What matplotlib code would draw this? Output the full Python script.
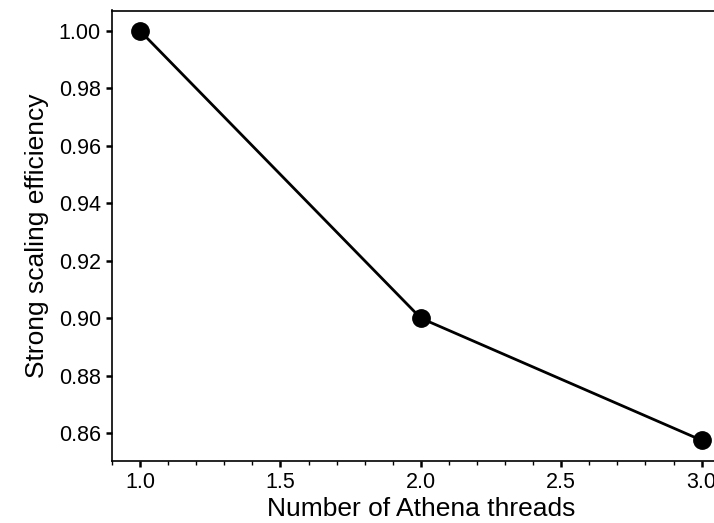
import matplotlib
matplotlib.use('Agg')
from matplotlib import pyplot as plt
from matplotlib.ticker import MultipleLocator

plt.rcParams['font.family'] = ['Liberation Sans', 'DejaVu Sans']

# data
threads = [1.0, 2.0, 3.0]
efficiency = [1.0, 0.9, 0.8575]

fig = plt.figure(figsize=(7.14, 5.23), dpi=100)
# axes run past the right edge of the figure, as in the reference crop
ax = fig.add_axes([112 / 714, 62.3 / 523, 617.7 / 714, 450.2 / 523])

ax.plot(threads, efficiency, color='black', linewidth=2.0,
        marker='o', markersize=12.5)

ax.set_xlim(0.9, 3.1)
ax.set_ylim(0.8504, 1.0071)
ax.set_yticks([0.86, 0.88, 0.90, 0.92, 0.94, 0.96, 0.98, 1.00])
ax.set_xticks([1.0, 1.5, 2.0, 2.5, 3.0])
ax.xaxis.set_minor_locator(MultipleLocator(0.1))

ax.tick_params(axis='both', which='major', direction='out', length=4,
               width=1.8, labelsize=15.5, colors='black', pad=4)
ax.tick_params(axis='x', which='minor', direction='out', length=3, width=1.0)

for spine in ax.spines.values():
    spine.set_linewidth(1.2)

ax.set_xlabel('Number of Athena threads', fontsize=19, labelpad=3)
ax.set_ylabel('Strong scaling efficiency', fontsize=19, labelpad=7)

fig.savefig('out.png', dpi=100)
